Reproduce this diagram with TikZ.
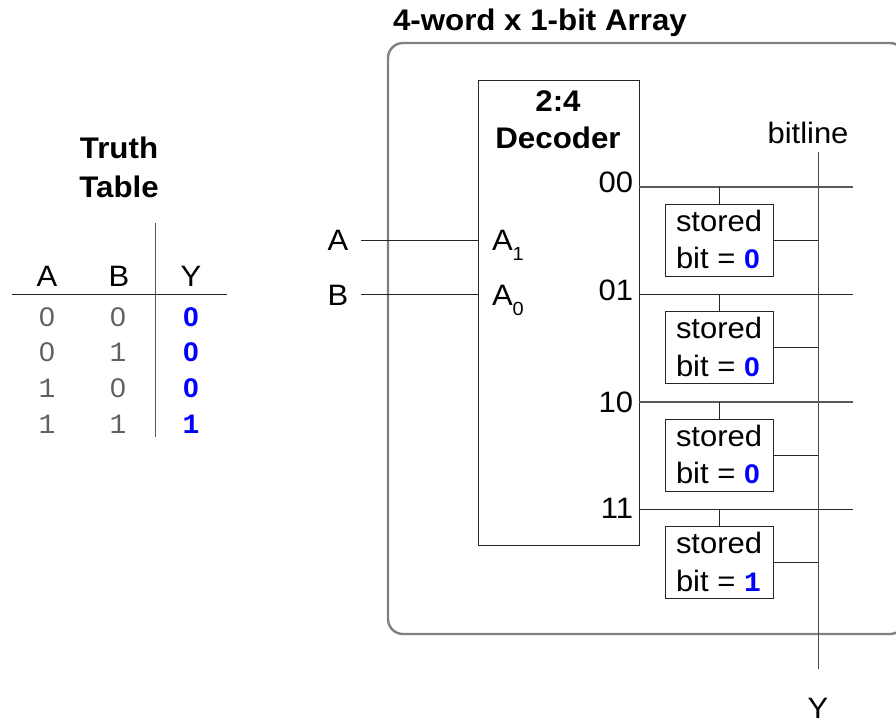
\documentclass[tikz,border=0pt]{standalone}
\usepackage{fontspec}
\setmainfont[FakeStretch=1.05]{Liberation Sans}
\setmonofont{Liberation Mono}
\definecolor{framegray}{gray}{0.5}
\definecolor{bitblue}{rgb}{0,0,1}
\newcommand{\bitzero}{\textcolor{bitblue}{\fontsize{27}{27}\selectfont\rmfamily\bfseries 0}}
\newcommand{\bitone}{\textcolor{bitblue}{\fontsize{28}{28}\selectfont\ttfamily\bfseries 1}}
\newcommand{\subdigit}[1]{\raisebox{-10pt}{\fontsize{19}{19}\selectfont #1}}
\tikzset{
  x=1pt,y=-1pt,
  lbl/.style={inner sep=0pt,outer sep=0pt,font=\fontsize{29.5}{29.5}\selectfont},
  ttl/.style={lbl,font=\fontsize{29.8}{29.8}\selectfont\bfseries},
  digit/.style={inner sep=0pt,font=\fontsize{28}{28}\selectfont\ttfamily,text=black!62,anchor=base},
  zdigit/.style={inner sep=0pt,font=\fontsize{27}{27}\selectfont,text=black!62,anchor=base},
  ydigit/.style={inner sep=0pt,font=\fontsize{28}{28}\selectfont\ttfamily\bfseries,text=bitblue,anchor=base},
  yzero/.style={inner sep=0pt,font=\fontsize{27}{27}\selectfont\bfseries,text=bitblue,anchor=base},
  wire/.style={draw=black!85,line width=1pt},
  frame/.style={draw=framegray,line width=2.4pt,rounded corners=15pt},
  block/.style={draw=black!85,line width=1pt,inner sep=0pt,outer sep=0pt,minimum width=108pt},
  bitbox/.style={block,minimum height=72pt}
}
\begin{document}
\begin{tikzpicture}
\useasboundingbox (0,0) rectangle (896,721);
\fill[white] (0,0) rectangle (896,721);
% Truth table
\node[ttl,anchor=base] (tt1) at (119,158) {Truth};
\node[ttl,anchor=base] (tt2) at (119,197) {Table};
\coordinate (tvt) at (155.5,223);
\coordinate (tvb) at (155.5,437);
\coordinate (thl) at (12,294.5);
\coordinate (thr) at (227,294.5);
\draw[wire,draw=black!65] (tvt) -- (tvb);
\draw[wire] (thl) -- (thr);
\node[lbl,anchor=base] (ha) at (47,286) {A};
\node[lbl,anchor=base] (hb) at (119,286) {B};
\node[lbl,anchor=base] (hy) at (191,286) {Y};
\node[zdigit] (a0) at (47,326) {0};
\node[zdigit] (b0) at (118,326) {0};
\node[yzero] (y0) at (191,326) {0};
\node[zdigit] (a1) at (47,361.5) {0};
\node[digit] (b1) at (118,361.5) {1};
\node[yzero] (y1) at (191,361.5) {0};
\node[digit] (a2) at (47,397) {1};
\node[zdigit] (b2) at (118,397) {0};
\node[yzero] (y2) at (191,397) {0};
\node[digit] (a3) at (47,433) {1};
\node[digit] (b3) at (118,433) {1};
\node[ydigit] (y3) at (191,433) {1};
% Array frame
\node[ttl,anchor=base west] (title) at (393,30) {4-word x 1-bit Array};
\draw[frame] (388,43) rectangle (905,634);
% Decoder
\node[block,minimum width=161pt,minimum height=465pt] (dec) at (558.5,312.5) {};
\node[ttl,anchor=base] (d1) at (558,111) {2:4};
\node[ttl,anchor=base] (d2) at (558,148) {Decoder};
% Inputs
\coordinate (ina) at (361,240.5);
\coordinate (inb) at (361,294.5);
\node[lbl,anchor=base] (la) at (338,250) {A};
\node[lbl,anchor=base] (lb) at (338,305) {B};
\draw[wire] (ina) -- (ina -| dec.west);
\draw[wire] (inb) -- (inb -| dec.west);
\node[lbl,anchor=base west] (a1l) at (492,250) {A\subdigit{1}};
\node[lbl,anchor=base west] (a0l) at (492,305) {A\subdigit{0}};
% Output labels
\node[lbl,anchor=base east] (o0) at (633,192) {00};
\node[lbl,anchor=base east] (o1) at (633,300) {01};
\node[lbl,anchor=base east] (o2) at (633,412) {10};
\node[lbl,anchor=base east] (o3) at (633,518) {11};
% Bitline
\coordinate (bt) at (818,152);
\coordinate (bb) at (818,669);
\draw[wire,draw=black!70] (bt) -- (bb);
\node[lbl,anchor=base] (bl) at (808,143) {bitline};
\node[lbl,anchor=base] (yo) at (818,718) {Y};
% Wordlines
\coordinate (w0) at (853,187);
\coordinate (w1) at (853,294.5);
\coordinate (w2) at (853,402);
\coordinate (w3) at (853,509.5);
\draw[wire,draw=black!65,line width=1.2pt] (w0 -| dec.east) -- (w0);
\draw[wire] (w1 -| dec.east) -- (w1);
\draw[wire,draw=black!65,line width=1.2pt] (w2 -| dec.east) -- (w2);
\draw[wire] (w3 -| dec.east) -- (w3);
% Stored bits
\node[bitbox] (s0) at (719,240) {};
\node[bitbox] (s1) at (719,347.5) {};
\node[bitbox] (s2) at (719,455) {};
\node[bitbox] (s3) at (719,562.5) {};
\node[lbl,anchor=base west] (s0a) at (676,231) {stored};
\node[lbl,anchor=base west] (s0b) at (676,268) {bit = \bitzero};
\node[lbl,anchor=base west] (s1a) at (676,338) {stored};
\node[lbl,anchor=base west] (s1b) at (676,376) {bit = \bitzero};
\node[lbl,anchor=base west] (s2a) at (676,446) {stored};
\node[lbl,anchor=base west] (s2b) at (676,483) {bit = \bitzero};
\node[lbl,anchor=base west] (s3a) at (676,553) {stored};
\node[lbl,anchor=base west] (s3b) at (676,591) {bit = \bitone};
\foreach \i in {0,1,2,3}{
  \draw[wire] (s\i.north) -- (s\i.north |- w\i);
  \draw[wire] (s\i.east) -- (s\i.east -| bt);
}
\end{tikzpicture}
\end{document}
